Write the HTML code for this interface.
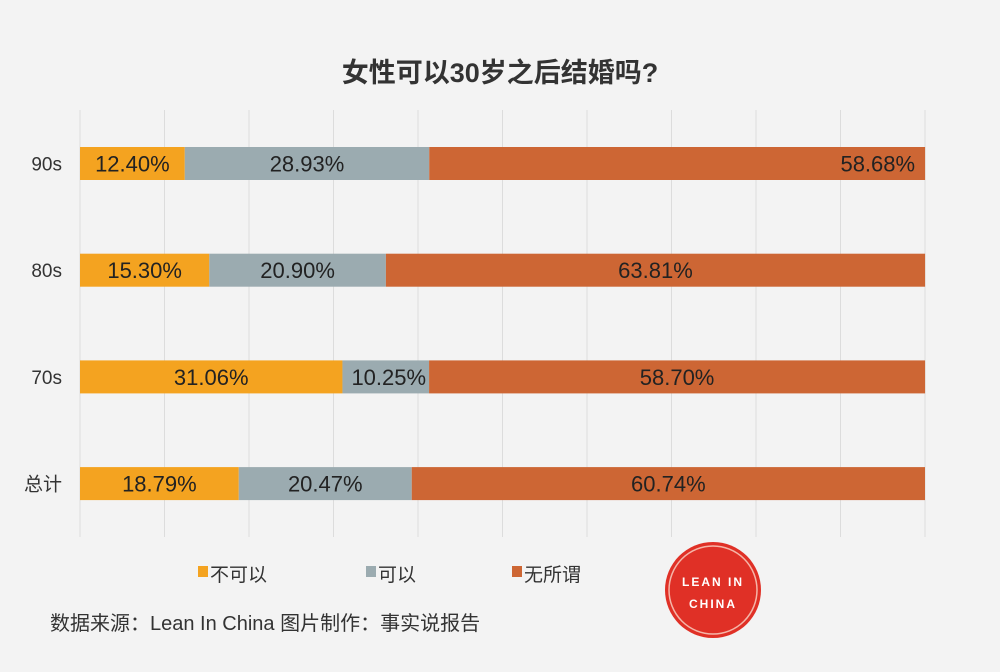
<!DOCTYPE html>
<html><head><meta charset="utf-8">
<style>
body{margin:0;background:#f3f3f3;width:1000px;height:667px;overflow:hidden;font-family:"Liberation Sans","Noto Sans CJK SC",sans-serif;}
</style></head>
<body>
<svg id="chart" width="1000" height="667" xmlns="http://www.w3.org/2000/svg">
<rect width="1000" height="667" fill="#f3f3f3"/>
<text x="500" y="82" text-anchor="middle" font-size="27" font-weight="bold" fill="#333" font-family="Liberation Sans, Noto Sans CJK SC, sans-serif">女性可以30岁之后结婚吗?</text>
<g id="grid"></g>
<g id="bars"></g>
<g id="legend"></g>
<text x="50" y="630" font-size="20" fill="#333" font-family="Liberation Sans, Noto Sans CJK SC, sans-serif">数据来源：Lean In China  图片制作：事实说报告</text>
<g>
<circle cx="713" cy="590" r="48" fill="#e03026"/>
<circle cx="713" cy="590" r="44" fill="none" stroke="#f5b5a8" stroke-width="1.5"/>
<text x="713" y="586" text-anchor="middle" font-size="12" font-weight="bold" fill="#fff" letter-spacing="2">LEAN IN</text>
<text x="713" y="608" text-anchor="middle" font-size="12" font-weight="bold" fill="#fff" letter-spacing="2">CHINA</text>
</g>
</svg>
<script>
const categories=["90s","80s","70s","总计"];
const seriesNames=["不可以","可以","无所谓"];
const notOk=[12.40,15.30,31.06,18.79];
const ok=[28.93,20.90,10.25,20.47];
const whatever=[58.68,63.81,58.70,60.74];
const series=[notOk,ok,whatever];
const colors=["#f4a320","#9babb0","#cd6634"];
const ticks=[0,10,20,30,40,50,60,70,80,90,100];
const NS="http://www.w3.org/2000/svg";
const x0=80,x1=925;
const xs=v=>x0+(x1-x0)*v/100;
const ys=i=>147+i*106.7;
const barH=33;
function mk(t,a,p){const e=document.createElementNS(NS,t);for(const k in a)e.setAttribute(k,a[k]);p.appendChild(e);return e;}
const grid=document.getElementById('grid');
ticks.forEach(t=>{
 const l=mk('line',{x1:xs(t),x2:xs(t),y1:110,y2:537,stroke:'#dcdcdc','stroke-width':1},grid);
 
 
});
const bars=document.getElementById('bars');
categories.forEach((c,i)=>{
 const y=ys(i);
 const lab=mk('text',{x:62,y:y+barH/2+7,'text-anchor':'end','font-size':19,fill:'#333'},bars);
 lab.textContent=c;
 
 
 let acc=0;
 series.forEach((s,j)=>{
  const v=s[i];
  const r=mk('rect',{x:xs(acc),y:y,width:xs(acc+v)-xs(acc),height:barH,fill:colors[j]},bars);
  
  
  let tx, anchor;
  if(j===0){tx=xs(acc)+ (xs(acc+v)-xs(acc))/2; anchor='middle';}
  else if(j===1){tx=(xs(acc)+xs(acc+v))/2; anchor='middle';}
  else {tx=(i===0)?xs(acc+v)-10:(xs(acc)+xs(acc+v))/2; anchor=(i===0)?'end':'middle';}
  if(j===1&&i===2){tx=xs(acc+v)-3;anchor='end';}
  const t=mk('text',{x:tx,y:y+barH/2+8,'text-anchor':anchor,'font-size':22,fill:'#222'},bars);
  t.textContent=v.toFixed(2)+'%';
  
  
  acc+=v;
 });
});
const lg=document.getElementById('legend');
const lx=[198,366,512];
seriesNames.forEach((n,j)=>{
 const r=mk('rect',{x:lx[j],y:566,width:10,height:11,fill:colors[j]},lg);
 
 
 const t=mk('text',{x:lx[j]+12,y:581,'font-size':19,fill:'#333'},lg);
 t.textContent=n;
 
 
});
</script>
</body></html>
